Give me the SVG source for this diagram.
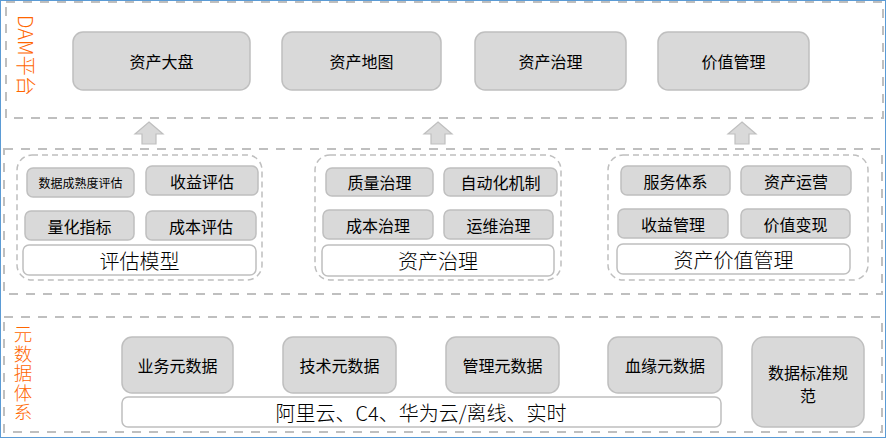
<svg xmlns="http://www.w3.org/2000/svg" width="886" height="438" viewBox="0 0 886 438">
  <style>
    .frame { fill: none; stroke: #bfbfbf; stroke-width: 2; stroke-dasharray: 9 8; }
    .group { fill: none; stroke: #bfbfbf; stroke-width: 1.5; stroke-dasharray: 6 4; }
    .box { fill: #d9d9d9; stroke: #bfbfbf; stroke-width: 1.5; }
    .plain { fill: #ffffff; stroke: #bfbfbf; stroke-width: 1.5; }
    .arrow { fill: #d9d9d9; stroke: #bfbfbf; stroke-width: 1.2; }
    text { font-family: "Noto Sans CJK SC", "Liberation Sans", sans-serif; fill: #000; text-anchor: middle; dominant-baseline: central; }
    .t16 { font-size: 16px; }
    .t12 { font-size: 12px; }
    .big { font-size: 20px; font-weight: 300; }
    .side { font-size: 20px; font-weight: 300; fill: #ff6600; }
    .stack { font-size: 18.5px; font-weight: 300; fill: #ff6600; writing-mode: vertical-rl; text-orientation: upright; letter-spacing: 1px; text-anchor: start; }
  </style>

  <!-- outer border -->
  <rect x="0.5" y="0.5" width="885" height="437" fill="#ffffff" stroke="#5b9bd5" stroke-width="1"/>

  <!-- layer frames -->
  <g id="layer-dam">
    <rect class="frame" x="6" y="2" width="877" height="116"/>
    <text class="side" transform="translate(18,15) rotate(90)" style="text-anchor:start;dominant-baseline:alphabetic">DAM平台</text>
  </g>
  <g id="layer-assets">
    <rect class="frame" x="4" y="149" width="878" height="145"/>
  </g>
  <g id="layer-meta">
    <rect class="frame" x="4" y="317" width="878" height="115"/>
    <!-- vertical label, upright characters -->
    <text class="stack" x="23" y="325">元数据体系</text>
  </g>

  <!-- DAM platform nodes -->
  <g id="n-dapan"><rect class="box" x="73" y="32" width="177" height="58" rx="10"/><text class="t16" x="161.5" y="61">资产大盘</text></g>
  <g id="n-ditu"><rect class="box" x="282" y="32" width="159" height="58" rx="10"/><text class="t16" x="361.5" y="61">资产地图</text></g>
  <g id="n-zhili"><rect class="box" x="475" y="32" width="151" height="58" rx="10"/><text class="t16" x="550.5" y="61">资产治理</text></g>
  <g id="n-jiazhi"><rect class="box" x="658" y="32" width="151" height="58" rx="10"/><text class="t16" x="733.5" y="61">价值管理</text></g>

  <!-- evaluation model group -->
  <g id="g-pinggu">
    <rect class="group" x="17" y="155" width="245" height="125" rx="15"/>
    <g id="n-chengshu"><rect class="box" x="27" y="168" width="107" height="29" rx="6"/><text class="t12" x="80.5" y="182.5">数据成熟度评估</text></g>
    <g id="n-shouyi-pg"><rect class="box" x="146" y="166" width="112" height="29" rx="6"/><text class="t16" x="202" y="180.5">收益评估</text></g>
    <g id="n-lianghua"><rect class="box" x="25" y="211" width="109" height="29" rx="6"/><text class="t16" x="79.5" y="225.5">量化指标</text></g>
    <g id="n-chengben-pg"><rect class="box" x="146" y="211" width="110" height="29" rx="6"/><text class="t16" x="201" y="225.5">成本评估</text></g>
    <g id="n-pinggu"><rect class="plain" x="23" y="245" width="233" height="30" rx="6"/><text class="big" x="139.5" y="260">评估模型</text></g>
  </g>

  <!-- asset governance group -->
  <g id="g-zhili">
    <rect class="group" x="315" y="155" width="246" height="125" rx="15"/>
    <g id="n-zhiliang"><rect class="box" x="326" y="168" width="107" height="28" rx="6"/><text class="t16" x="379.5" y="182">质量治理</text></g>
    <g id="n-zidong"><rect class="box" x="444" y="168" width="113" height="28" rx="6"/><text class="t16" x="500.5" y="182">自动化机制</text></g>
    <g id="n-chengben-zl"><rect class="box" x="323" y="210" width="110" height="29" rx="6"/><text class="t16" x="378" y="224.5">成本治理</text></g>
    <g id="n-yunwei"><rect class="box" x="444" y="210" width="109" height="29" rx="6"/><text class="t16" x="498.5" y="224.5">运维治理</text></g>
    <g id="n-zhili-label"><rect class="plain" x="322" y="245" width="232" height="31" rx="6"/><text class="big" x="438" y="260.5">资产治理</text></g>
  </g>

  <!-- asset value management group -->
  <g id="g-jiazhi">
    <rect class="group" x="608" y="155" width="260" height="125" rx="15"/>
    <g id="n-fuwu"><rect class="box" x="621" y="166" width="109" height="29" rx="6"/><text class="t16" x="675.5" y="180.5">服务体系</text></g>
    <g id="n-yunying"><rect class="box" x="741" y="166" width="110" height="29" rx="6"/><text class="t16" x="796" y="180.5">资产运营</text></g>
    <g id="n-shouyi-gl"><rect class="box" x="618" y="209" width="110" height="29" rx="6"/><text class="t16" x="673" y="223.5">收益管理</text></g>
    <g id="n-bianxian"><rect class="box" x="741" y="209" width="109" height="29" rx="6"/><text class="t16" x="795.5" y="223.5">价值变现</text></g>
    <g id="n-jiazhi-label"><rect class="plain" x="617" y="244" width="233" height="30" rx="6"/><text class="big" x="733.5" y="259">资产价值管理</text></g>
  </g>

  <!-- metadata nodes -->
  <g id="n-yewu"><rect class="box" x="122" y="337" width="111" height="56" rx="10"/><text class="t16" x="177.5" y="365">业务元数据</text></g>
  <g id="n-jishu"><rect class="box" x="283" y="337" width="113" height="56" rx="10"/><text class="t16" x="339.5" y="365">技术元数据</text></g>
  <g id="n-guanli"><rect class="box" x="446" y="337" width="113" height="56" rx="10"/><text class="t16" x="502.5" y="365">管理元数据</text></g>
  <g id="n-xueyuan"><rect class="box" x="608" y="337" width="114" height="56" rx="10"/><text class="t16" x="665" y="365">血缘元数据</text></g>
  <g id="n-biaozhun"><rect class="box" x="752" y="337" width="112" height="90" rx="12"/><text class="t16"><tspan x="808" y="371.5">数据标准规</tspan><tspan x="808" dy="23.5">范</tspan></text></g>
  <g id="n-source"><rect class="plain" x="122" y="397" width="599" height="30" rx="6"/><text class="big" x="421" y="412">阿里云、C4、华为云/离线、实时</text></g>

  <!-- connectors: upward block arrows between layers -->
  <g id="connectors">
    <polygon class="arrow" points="149,122 163,134 156,134 156,144 142,144 142,134 135,134"/>
    <polygon class="arrow" points="438,122 452,134 445,134 445,144 431,144 431,134 424,134"/>
    <polygon class="arrow" points="742,122 756,134 749,134 749,144 735,144 735,134 728,134"/>
  </g>
</svg>
